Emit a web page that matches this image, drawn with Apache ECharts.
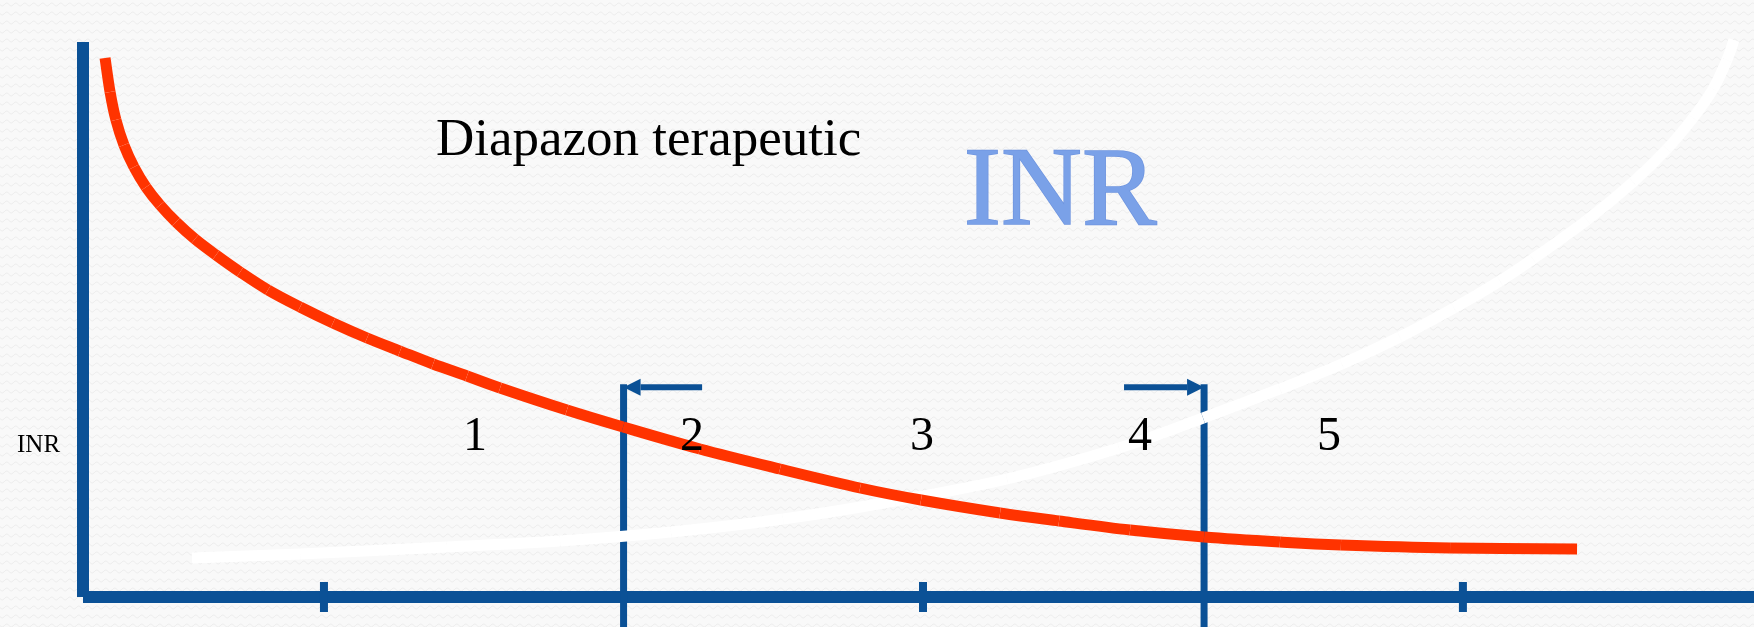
<!DOCTYPE html>
<html>
<head>
<meta charset="utf-8">
<script src="https://cdn.jsdelivr.net/npm/echarts@6/dist/echarts.min.js"></script>
<style>
  html, body { margin: 0; padding: 0; }
  #chart { width: 1754px; height: 627px; }
</style>
</head>
<body>
<div id="chart"></div>
<script>
// schematic units: x 0..100 along the axis, y 0..100 up the axis
const redCurve = [
  [1.32, 97.12], [1.62, 90.99], [1.97, 85.95], [2.45, 81.44], [3.05, 77.48],
  [3.77, 73.87], [4.61, 70.63], [5.57, 67.57], [6.70, 64.50], [7.96, 61.62],
  [9.40, 58.56], [11.07, 55.32], [12.99, 52.25], [14.96, 49.37], [17.00, 46.67],
  [18.97, 44.32], [20.95, 41.98], [22.98, 39.82], [24.96, 37.66], [28.96, 33.69],
  [32.32, 30.63], [36.92, 26.67], [41.71, 23.06], [46.50, 19.64], [50.15, 17.48],
  [54.88, 15.14], [58.41, 13.69], [62.66, 12.07], [67.09, 10.81], [71.63, 9.91],
  [75.28, 9.37], [81.81, 8.83], [89.41, 8.65]
];
const whiteCurve = [
  [6.52, 7.03], [12.99, 7.75], [21.78, 9.01], [28.55, 10.09], [35.19, 11.71],
  [41.89, 14.05], [48.59, 17.30], [55.30, 21.26], [62.00, 26.85], [67.03, 32.25],
  [71.63, 37.48], [75.34, 41.98], [78.81, 46.85], [82.05, 52.07], [84.80, 56.94],
  [86.77, 60.90], [90.01, 67.93], [92.76, 74.77], [94.79, 80.72], [96.35, 86.31],
  [97.55, 91.53], [98.38, 96.76], [98.80, 100.36]
];
const xTicks = [14.42, 50.27, 82.58];
// therapeutic range bounds: [x, top, bottom, arrow tail x]
const rangeBounds = [
  [32.35, 37.8, -5.6, 37.05],
  [67.09, 37.8, -5.6, 62.30]
];
const zoneLabels = ["1", "2", "3", "4", "5"];
const zoneX = [23.46, 36.45, 50.21, 63.26, 74.57];
const zoneY = 28.7;

const blue = "#0b5196";
const serif = "Liberation Serif, Times New Roman, serif";

function makePattern() {
  const c = document.createElement("canvas");
  c.width = 9; c.height = 9;
  const g = c.getContext("2d");
  g.fillStyle = "#f9f9f9";
  g.fillRect(0, 0, 9, 9);
  g.strokeStyle = "#eeeeee";
  g.lineWidth = 1;
  g.beginPath();
  for (let i = 0; i <= 9; i++) {
    const y = 4.5 + 1.5 * Math.sin((i / 9) * Math.PI * 2);
    if (i === 0) g.moveTo(i, y); else g.lineTo(i, y);
  }
  g.stroke();
  return c;
}

// draws one Catmull-Rom segment per data point, so the curve passes through every point
function curveSeries(data, color) {
  return {
    type: "custom",
    clip: false,
    data: data,
    renderItem: (params, api) => {
      const i = params.dataIndexInside;
      const n = params.dataInsideLength;
      if (i >= n - 1) return null;
      const pt = (k) => {
        const j = Math.max(0, Math.min(n - 1, k));
        return api.coord([api.value(0, j), api.value(1, j)]);
      };
      const p0 = pt(i - 1), p1 = pt(i), p2 = pt(i + 1), p3 = pt(i + 2);
      return {
        type: "bezierCurve",
        shape: {
          x1: p1[0], y1: p1[1], x2: p2[0], y2: p2[1],
          cpx1: p1[0] + (p2[0] - p0[0]) / 6, cpy1: p1[1] + (p2[1] - p0[1]) / 6,
          cpx2: p2[0] - (p3[0] - p1[0]) / 6, cpy2: p2[1] - (p3[1] - p1[1]) / 6
        },
        style: { stroke: color, lineWidth: 11, fill: null, lineCap: "butt" }
      };
    }
  };
}

const chart = echarts.init(document.getElementById("chart"));

chart.setOption({
  animation: false,
  backgroundColor: { image: makePattern(), repeat: "repeat" },
  grid: { left: 83, right: 0, top: 42, bottom: 30 },
  xAxis: {
    type: "value", min: 0, max: 100,
    axisLine: { show: true, lineStyle: { color: blue, width: 12, cap: "butt" } },
    axisTick: { show: false }, axisLabel: { show: false }, splitLine: { show: false }
  },
  yAxis: {
    type: "value", min: 0, max: 100,
    axisLine: { show: true, lineStyle: { color: blue, width: 12, cap: "butt" } },
    axisTick: { show: false }, axisLabel: { show: false }, splitLine: { show: false }
  },
  graphic: [
    {
      type: "text", left: 17, top: 433,
      style: { text: "INR", font: "25px " + serif, fill: "#000" }
    },
    {
      type: "text", left: 436, top: 115,
      style: { text: "Diapazon terapeutic", font: "53px " + serif, fill: "#000" }
    },
    {
      type: "text", left: 963, top: 138,
      style: {
        text: "INR", font: "112px " + serif,
        fill: "#7aa1e8", stroke: "#6f95df", lineWidth: 1.5,
        shadowColor: "rgba(0,0,0,0.35)", shadowBlur: 9, shadowOffsetX: 6, shadowOffsetY: 8
      }
    }
  ],
  series: [
    {
      type: "custom",
      clip: false,
      data: rangeBounds,
      renderItem: (params, api) => {
        const top = api.coord([api.value(0), api.value(1)]);
        const bottom = api.coord([api.value(0), api.value(2)]);
        const tail = api.coord([api.value(3), api.value(1)]);
        const dir = top[0] > tail[0] ? 1 : -1;
        const head = 17, half = 8.5;
        return {
          type: "group",
          children: [
            { type: "line", shape: { x1: top[0], y1: top[1] - 3, x2: bottom[0], y2: bottom[1] }, style: { stroke: blue, lineWidth: 7 } },
            { type: "line", shape: { x1: tail[0], y1: tail[1], x2: top[0] - dir * head, y2: top[1] }, style: { stroke: blue, lineWidth: 6 } },
            { type: "polygon", shape: { points: [[top[0], top[1]], [top[0] - dir * head, top[1] - half], [top[0] - dir * head, top[1] + half]] }, style: { fill: blue } }
          ]
        };
      }
    },
    {
      type: "scatter",
      clip: false,
      symbol: "rect",
      symbolSize: [8, 30],
      itemStyle: { color: blue, opacity: 1 },
      data: xTicks.map((x) => [x, 0])
    },
    {
      type: "scatter",
      symbolSize: 0,
      itemStyle: { opacity: 1 },
      label: {
        show: true, position: "inside",
        formatter: (p) => zoneLabels[p.dataIndex],
        fontFamily: serif, fontSize: 48, color: "#000000", opacity: 1,
        textBorderWidth: 0
      },
      data: zoneX.map((x) => [x, zoneY])
    },
    curveSeries(whiteCurve, "#ffffff"),
    curveSeries(redCurve, "#ff3300")
  ]
});
</script>
</body>
</html>
